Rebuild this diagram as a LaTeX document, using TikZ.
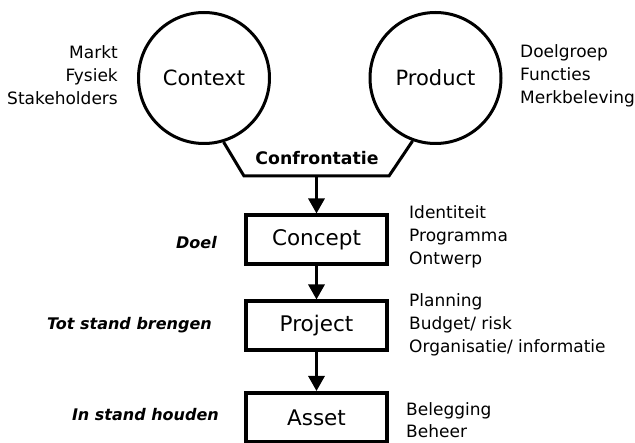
\documentclass[tikz,border=0pt]{standalone}
\usepackage{fontspec}
\setmainfont{DejaVu Sans}
\usetikzlibrary{arrows.meta}
\tikzset{
  circ/.style={circle, draw, line width=3pt, minimum size=131pt, inner sep=0pt,
    font=\fontsize{21}{25}\selectfont},
  stage/.style={rectangle, draw, line width=4pt, minimum width=141pt, minimum height=49pt,
    inner sep=0pt, font=\fontsize{21.5}{25}\selectfont},
  note/.style={inner sep=0pt, font=\fontsize{17}{23}\selectfont},
  phase/.style={inner sep=0pt, anchor=east, font=\fontsize{16}{20}\selectfont\bfseries\itshape},
  flow/.style={line width=3pt, -{Triangle[width=16pt,length=15pt]}},
  funnel/.style={line width=3pt}
}
\begin{document}
\begin{tikzpicture}[x=1pt,y=-1pt]
\useasboundingbox (0,0) rectangle (635,443);
\begin{scope}
\clip (0,0) rectangle (635,443);

% the two inputs
\node[circ] (ctx) at (204,78) {Context};
\node[circ] (prd) at (435.5,78) {Product};

% funnel where they meet
\coordinate (fl) at (244,176);
\coordinate (fr) at (389,176);
\coordinate (fm) at (316.5,176);
\draw[funnel, line join=miter] (ctx.-73) -- (fl) -- (fr) -- (prd.-110);
\node[inner sep=0pt, font=\fontsize{17.3}{20}\selectfont\bfseries] (conf) at (317,158) {Confrontatie};

% stages
\node[stage] (concept) at (316.5,240) {Concept};
\node[stage] (project) at (316.5,326) {Project};
\node[stage] (asset) at (316.5,417.5) {Asset};

\draw[flow] (fm) -- (concept.north);
\draw[flow] (concept.south) -- (project.north);
\draw[flow] (project.south) -- (asset.north);

% side notes
\node[note, anchor=east, align=right] (ctxnote) at (118,75) {Markt\\Fysiek\\Stakeholders};
\node[note, anchor=west, align=left] (prdnote) at (520,76) {Doelgroep\\Functies\\Merkbeleving};
\node[note, anchor=west, align=left] (connote) at (409,237) {Identiteit\\Programma\\Ontwerp};
\node[note, anchor=west, align=left] (pronote) at (409,325) {Planning\\Budget/ risk\\Organisatie/ informatie};
\node[note, anchor=west, align=left, font=\fontsize{17}{22}\selectfont] (assnote) at (406,420) {Belegging\\Beheer};

% phase labels
\node[phase] (doel) at (217,243) {Doel};
\node[phase] (tsb) at (212,325) {Tot stand brengen};
\node[phase] (ish) at (219,415) {In stand houden};
\end{scope}
\end{tikzpicture}
\end{document}
